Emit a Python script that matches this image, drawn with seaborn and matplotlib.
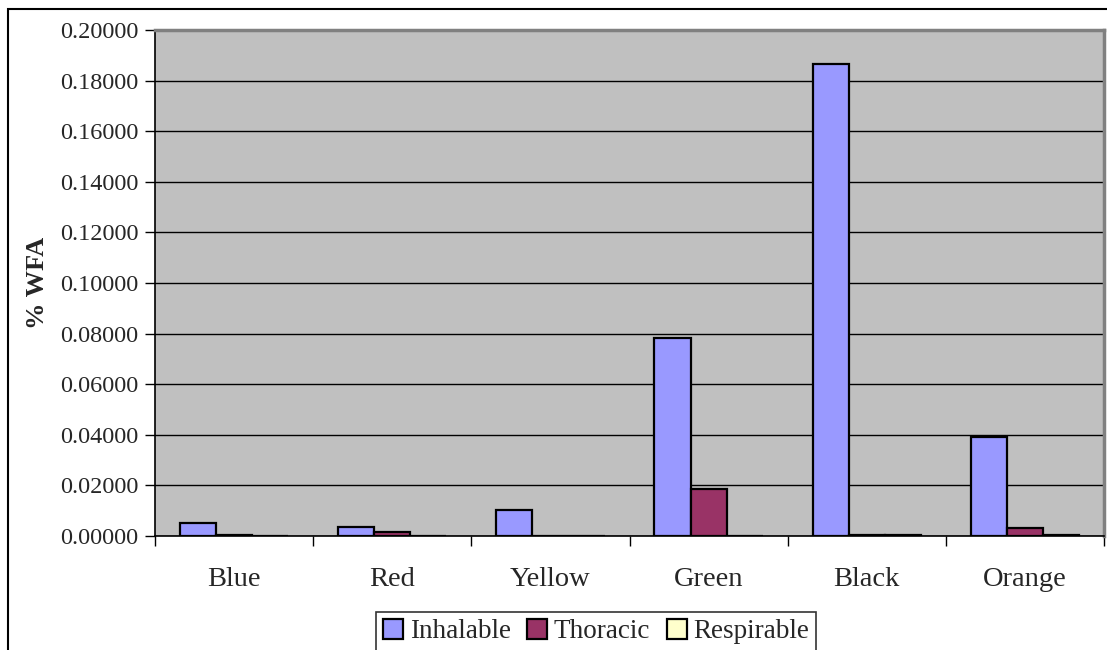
import matplotlib
matplotlib.use("Agg")
import matplotlib.pyplot as plt
import matplotlib.patches as mpatches
import seaborn as sns
import pandas as pd
import numpy as np

# Mass fraction per pigment colour and size fraction
colours = ["Blue", "Red", "Yellow", "Green", "Black", "Orange"]
fractions = ["Inhalable", "Thoracic", "Respirable"]
inhalable = [0.0053, 0.0037, 0.0103, 0.0783, 0.1866, 0.0390]
thoracic = [0.0003, 0.0017, 0.0, 0.0186, 0.0003, 0.0030]
respirable = [0.0, 0.0, 0.0, 0.0, 0.0002, 0.0003]
yticks = [0.0, 0.02, 0.04, 0.06, 0.08, 0.10, 0.12, 0.14, 0.16, 0.18, 0.20]

palette = ["#9999FF", "#993366", "#FFFFCC"]

df = pd.DataFrame({
    "colour": colours * 3,
    "fraction": [f for f in fractions for _ in colours],
    "value": inhalable + thoracic + respirable,
})

sns.set_theme(style="white")
plt.rcParams["font.family"] = ["Liberation Serif", "DejaVu Serif"]

fig = plt.figure(figsize=(11.07, 6.5), dpi=100)
ax = fig.add_axes([155 / 1107, 1 - 536 / 650, 949 / 1107, 506 / 650])
ax.set_facecolor("#C0C0C0")

sns.barplot(data=df, x="colour", y="value", hue="fraction", order=colours,
            hue_order=fractions, palette=palette, width=0.684,
            edgecolor="black", linewidth=1.6, saturation=1, ax=ax, legend=False)

ax.set_ylim(0, 0.2)
ax.set_xlim(-0.5, len(colours) - 0.5)
ax.set_yticks(yticks)
ax.set_yticklabels([f"{v:.5f}" for v in yticks], fontsize=17.5)
ax.yaxis.grid(True, color="black", linewidth=1.0)
ax.set_axisbelow(True)

# Category labels centred, tick marks at group boundaries
ax.set_xticks(range(len(colours)))
ax.set_xticklabels(colours, fontsize=20.5)
ax.tick_params(axis="x", which="major", length=0, pad=22)
ax.set_xticks(np.arange(-0.5, len(colours)), minor=True)
ax.tick_params(axis="x", which="minor", length=7, width=1, color="black",
               direction="out", bottom=True)
ax.tick_params(axis="y", length=7, width=1, color="black", direction="out",
               left=True, pad=5)

ax.set_xlabel("")
ax.set_ylabel("% WFA", fontsize=19, fontweight="bold")
ax.yaxis.set_label_coords(-106 / 949, 0.5)

for side in ["left", "bottom"]:
    ax.spines[side].set_color("black")
    ax.spines[side].set_linewidth(1.2)
for side in ["top", "right"]:
    ax.spines[side].set_color("#808080")
    ax.spines[side].set_linewidth(2.5)

handles = [mpatches.Patch(facecolor=c, edgecolor="black", linewidth=1.6, label=l)
           for c, l in zip(palette, fractions)]
leg = fig.legend(handles=handles, loc="upper center",
                 bbox_to_anchor=(596 / 1107, 1 - 612 / 650), ncol=3,
                 fontsize=19.5, frameon=True, fancybox=False, edgecolor="black",
                 handlelength=0.75, handleheight=0.75, handletextpad=0.25,
                 columnspacing=0.6, borderpad=0.25, borderaxespad=0)
leg.get_frame().set_linewidth(1.2)

# Outer chart border
fig.patches.append(mpatches.Rectangle((8 / 1107, -0.05), 1.1, 1 - 9 / 650 + 0.05,
                                      transform=fig.transFigure, fill=False,
                                      edgecolor="black", linewidth=1.5))

fig.savefig("out.png", dpi=100)
